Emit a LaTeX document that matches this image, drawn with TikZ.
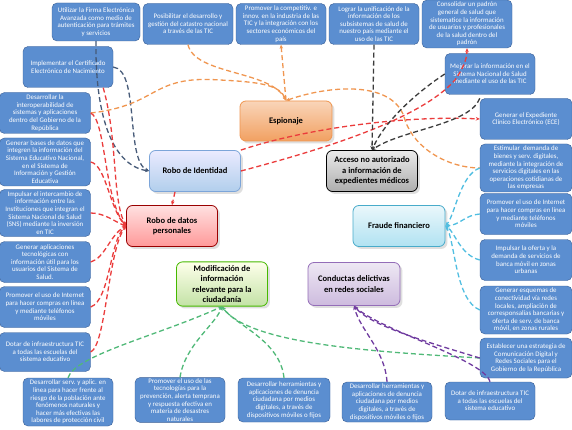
\documentclass[tikz,border=0pt]{standalone}
\usepackage{fontspec}
\setmainfont{Carlito}
\usetikzlibrary{arrows.meta,shadows}
\definecolor{metafondo}{RGB}{91,142,208}
\definecolor{metaborde}{RGB}{58,95,150}
\definecolor{pizarra}{RGB}{70,90,120}
\definecolor{naranja}{RGB}{240,150,80}
\definecolor{rojo}{RGB}{235,60,60}
\definecolor{gris}{RGB}{60,60,60}
\definecolor{cian}{RGB}{80,190,225}
\definecolor{verde}{RGB}{80,185,120}
\definecolor{morado}{RGB}{112,60,160}

\begin{document}
\begin{tikzpicture}[x=1pt, y=-1pt, >={Stealth[length=4pt,width=3.5pt]},
	meta/.style={draw=metaborde, fill=metafondo, rounded corners=5pt, text=white, align=center, inner sep=1pt, minimum width=90pt, minimum height=41pt, font=\fontsize{6.9}{7.6}\selectfont},
	riesgo/.style n args={3}{draw=#3, top color=#1, bottom color=#2, rounded corners=6pt, align=center, minimum width=91pt, minimum height=41pt, line width=0.8pt, drop shadow={opacity=0.25}, font=\fontsize{8.5}{10.5}\selectfont\bfseries},
	liga/.style={dashed, dash pattern=on 5pt off 3pt, line width=1.3pt}]
	\fill[white] (0,0) rectangle (572,430);
	\useasboundingbox (0,0) rectangle (572,430);

	\node [meta, minimum width=88pt, minimum height=38pt] (firma) at (96,22) {Utilizar la Firma Electrónica\\Avanzada como medio de\\autenticación para trámites\\y servicios};
	\node [meta] (catastro) at (188,24) {Posibilitar el desarrollo y\\gestión del catastro nacional\\a través de las TIC};
	\node [meta] (competitiv) at (281,24) {Promover la competitiv. e\\innov. en la industria de las\\TIC y la integración con los\\sectores económicos del\\país};
	\node [meta] (unificacion) at (374,24) {Lograr la unificación de la\\información de los\\subsistemas de salud de\\nuestro país mediante el\\uso de las TIC};
	\node [meta, minimum height=48pt] (padron) at (467,24) {Consolidar un padrón\\general de salud que\\sistematice la información\\de usuarios y profesionales\\de la salud dentro del\\padrón};

	\node [meta] (nacimiento) at (68,67) {Implementar el Certificado\\Electrónico de Nacimiento};
	\node [meta, minimum width=91pt] (interop) at (45,113) {Desarrollar la\\interoperabilidad de\\sistemas y aplicaciones\\dentro del Gobierno de la\\República};
	\node [meta, minimum width=91pt, minimum height=48pt] (basesdatos) at (45,162) {Generar bases de datos que\\integren la información del\\Sistema Educativo Nacional,\\en el Sistema de\\Información y Gestión\\Educativa};
	\node [meta, minimum width=91pt, minimum height=47pt] (intercambio) at (45,213) {Impulsar el intercambio de\\información entre las\\Instituciones que integran el\\Sistema Nacional de Salud\\(SNS) mediante la inversión\\en TIC};
	\node [meta, minimum width=91pt] (aplicaciones) at (45,262) {Generar aplicaciones\\tecnológicas con\\información útil para los\\usuarios del Sistema de\\Salud.};
	\node [meta, minimum width=91pt] (comprasizq) at (45,307) {Promover el uso de Internet\\para hacer compras en línea\\y mediante teléfonos\\móviles};
	\node [meta, minimum width=91pt, minimum height=39pt] (dotarizq) at (45,352) {Dotar de infraestructura TIC\\a todas las escuelas del\\sistema educativo};

	\node [meta, minimum height=48pt] (proteccion) at (68,402) {Desarrollar serv. y aplic. en\\línea para hacer frente al\\riesgo de la población ante\\fenómenos naturales y\\hacer más efectivas las\\labores de protección civil};
	\node [meta, minimum height=44pt] (prevencion) at (180,400) {Promover el uso de las\\tecnologías para la\\prevención, alerta temprana\\y respuesta efectiva en\\materia de desastres\\naturales};
	\node [meta, minimum width=92pt, minimum height=44pt] (denuncia1) at (284,400) {Desarrollar herramientas y\\aplicaciones de denuncia\\ciudadana por medios\\digitales, a través de\\dispositivos móviles o fijos};
	\node [meta, minimum height=40pt] (denuncia2) at (387,402) {Desarrollar herramientas y\\aplicaciones de denuncia\\ciudadana por medios\\digitales, a través de\\dispositivos móviles o fijos};
	\node [meta, minimum height=38pt] (dotarder) at (490,401) {Dotar de infraestructura TIC\\a todas las escuelas del\\sistema educativo};

	\node [meta] (mejorar) at (490,74) {Mejorar la información en el\\Sistema Nacional de Salud\\mediante el uso de las TIC};
	\node [meta, minimum width=92pt] (ece) at (526,119) {Generar el Expediente\\Clínico Electrónico (ECE)};
	\node [meta, minimum width=92pt, minimum height=48pt] (estimular) at (526,168) {Estimular\ \ demanda de\\bienes y serv. digitales,\\mediante la integración de\\servicios digitales en las\\operaciones cotidianas de\\las empresas};
	\node [meta, minimum width=92pt] (comprasder) at (526,214) {Promover el uso de Internet\\para hacer compras en línea\\y mediante teléfonos\\móviles};
	\node [meta, minimum width=92pt] (banca) at (526,260) {Impulsar la oferta y la\\demanda de servicios de\\banca móvil en zonas\\urbanas};
	\node [meta, minimum width=92pt, minimum height=48pt] (esquemas) at (526,310) {Generar esquemas de\\conectividad vía redes\\locales, ampliación de\\corresponsalías bancarias y\\oferta de serv. de banca\\móvil, en zonas rurales};
	\node [meta, minimum width=92pt, minimum height=40pt] (estrategia) at (526,358) {Establecer una estrategia de\\Comunicación Digital y\\Redes Sociales para el\\Gobierno de la República};

	\node [riesgo={naranja!40}{naranja!90}{naranja}, minimum width=92pt, minimum height=40pt] (espionaje) at (286,121) {Espionaje};
	\node [riesgo={blue!8}{blue!25!cyan!10!metafondo!45}{metafondo!80}] (identidad) at (195,171) {Robo de Identidad};
	\node [riesgo={red!12}{red!40}{red!60!black}] (datos) at (172,226) {Robo de datos\\personales};
	\node [riesgo={white!92!black}{white!68!black}{black}] (acceso) at (372,171) {Acceso no autorizado\\a información de\\expedientes médicos};
	\node [riesgo={cian!12}{cian!45}{cian!90!black}, minimum width=92pt] (fraude) at (399,226) {Fraude financiero};
	\node [riesgo={green!6!yellow!8}{green!35!olive!35}{green!45!olive}, minimum height=43pt] (modificacion) at (222,284) {Modificación de\\información\\relevante para la\\ciudadanía};
	\node [riesgo={morado!12}{morado!35}{morado!75}, minimum width=92pt, minimum height=43pt] (conductas) at (354,284) {Conductas delictivas\\en redes sociales};

	\draw [liga, pizarra, ->] (firma.south) .. controls (95,110) and (110,165) .. (identidad.west);
	\draw [liga, pizarra, ->] (nacimiento.east) .. controls (140,70) and (125,160) .. (identidad.west);

	\draw [liga, naranja, ->] (catastro.south) .. controls (195,75) and (270,70) .. (espionaje.north);
	\draw [liga, naranja, ->] (interop.east) .. controls (160,105) and (150,75) .. (220,80) .. controls (260,82) and (280,85) .. (espionaje.north);
	\draw [liga, naranja, <-] (competitiv.south) -- (espionaje.north);
	\draw [liga, naranja, <-] (espionaje.north) .. controls (330,85) and (395,80) .. (405,120) .. controls (415,150) and (450,168) .. (estimular.west);

	\draw [liga, rojo, ->] ([xshift=-10pt]nacimiento.south east) .. controls (118,140) and (112,200) .. (datos.west);
	\draw [liga, rojo, ->] (interop.east) .. controls (106,120) and (104,200) .. (datos.west);
	\draw [liga, rojo, ->] (basesdatos.east) .. controls (106,165) and (110,210) .. (datos.west);
	\draw [liga, rojo, ->] (intercambio.east) .. controls (105,213) and (115,222) .. (datos.west);
	\draw [liga, rojo, ->] (aplicaciones.east) .. controls (105,258) and (110,235) .. (datos.west);
	\draw [liga, rojo, ->] (comprasizq.east) .. controls (110,300) and (110,240) .. (datos.west);
	\draw [liga, rojo, ->] (dotarizq.east) .. controls (106,345) and (108,250) .. (datos.west);
	\draw [liga, rojo, ->] ([xshift=-20pt]identidad.south) -- (datos.north);
	\draw [liga, rojo, ->] (identidad.north east) .. controls (300,130) and (400,115) .. (ece.west);
	\draw [liga, rojo, ->] (identidad.east) .. controls (320,150) and (420,120) .. (455,80) .. controls (462,70) and (467,60) .. (padron.south);

	\draw [liga, gris, ->] (unificacion.south) -- (acceso.north);
	\draw [liga, gris, ->] (mejorar.west) .. controls (420,90) and (385,120) .. (acceso.north);
	\draw [liga, gris, ->] (ece.north west) .. controls (470,125) and (400,130) .. (acceso.north);

	\draw [liga, cian, ->] (estimular.west) .. controls (460,175) and (455,215) .. (fraude.east);
	\draw [liga, cian, ->] (comprasder.west) .. controls (465,215) and (460,225) .. (fraude.east);
	\draw [liga, cian, ->] (banca.west) .. controls (460,255) and (455,232) .. (fraude.east);
	\draw [liga, cian, ->] (esquemas.west) .. controls (455,300) and (455,240) .. (fraude.east);

	\draw [liga, verde, ->] (proteccion.north) .. controls (75,355) and (160,335) .. (modificacion.south);
	\draw [liga, verde, ->] (prevencion.north) .. controls (185,345) and (215,325) .. (modificacion.south);
	\draw [liga, verde, ->] (denuncia1.north) .. controls (280,340) and (235,325) .. (modificacion.south);
	\draw [liga, verde, ->] (estrategia.west) .. controls (380,352) and (250,345) .. (modificacion.south);

	\draw [liga, morado, ->] (denuncia2.north) .. controls (385,350) and (360,330) .. (conductas.south);
	\draw [liga, morado, ->] (estrategia.west) .. controls (420,340) and (370,325) .. (conductas.south);
	\draw [liga, morado, ->] (dotarder.north) .. controls (485,360) and (380,330) .. (conductas.south);
\end{tikzpicture}
\end{document}
